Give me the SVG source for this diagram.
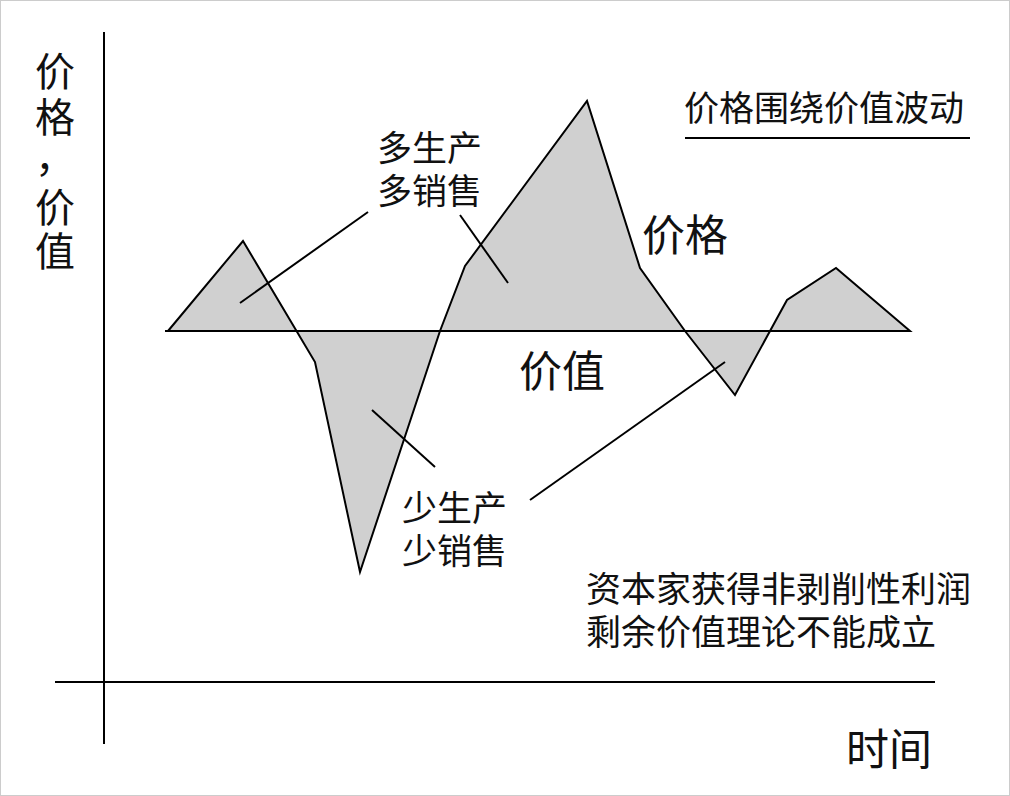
<svg xmlns="http://www.w3.org/2000/svg" width="1010" height="796" viewBox="0 0 1010 796">
<style>
text{font-family:"Noto Sans CJK SC","Noto Sans",sans-serif;fill:#111}
.s{font-size:35px}.l{font-size:43px}
.y{font-size:40px}
.ln{stroke:#000;stroke-width:2;fill:none}
</style>
<rect x="0.5" y="0.5" width="1009" height="795" fill="#fff" stroke="#ccc"/>
<g id="area"><polygon points="168,331 243,241 315,362 360,572 440,331 465,266 587,101 640,268 685,331 735,395 787,300 836,268 910,331" fill="#d0d0d0" stroke="#000" stroke-width="2"/></g>
<g id="connectors">
<line class="ln" x1="104" y1="32" x2="104" y2="744"/>
<line class="ln" x1="55" y1="682" x2="935" y2="682"/>
<line class="ln" x1="165" y1="331" x2="910" y2="331"/>
<line class="ln" x1="685" y1="138" x2="970" y2="138" stroke-width="1.5"/>
<line class="ln" x1="240" y1="303" x2="368" y2="212" stroke-width="1.3"/>
<line class="ln" x1="460" y1="215" x2="508" y2="283" stroke-width="1.3"/>
<line class="ln" x1="372" y1="410" x2="435" y2="467" stroke-width="1.3"/>
<line class="ln" x1="530" y1="500" x2="725" y2="362" stroke-width="1.3"/>
</g>
<g id="ylabel" class="y" text-anchor="middle">
<text x="55" y="86">价</text><text x="55" y="132">格</text><text x="55" y="172">，</text><text x="55" y="222">价</text><text x="55" y="266">值</text>
</g>
<g id="title"><text class="s" x="684" y="121">价格围绕价值波动</text></g>
<g id="more"><text class="s" x="377" y="161">多生产</text><text class="s" x="377" y="204">多销售</text></g>
<g id="price"><text class="l" x="642" y="251">价格</text></g>
<g id="value"><text class="l" x="519" y="387">价值</text></g>
<g id="less"><text class="s" x="402" y="521">少生产</text><text class="s" x="402" y="564">少销售</text></g>
<g id="note"><text class="s" x="586" y="602">资本家获得非剥削性利润</text><text class="s" x="586" y="645">剩余价值理论不能成立</text></g>
<g id="time"><text class="l" x="846" y="765">时间</text></g>
</svg>
